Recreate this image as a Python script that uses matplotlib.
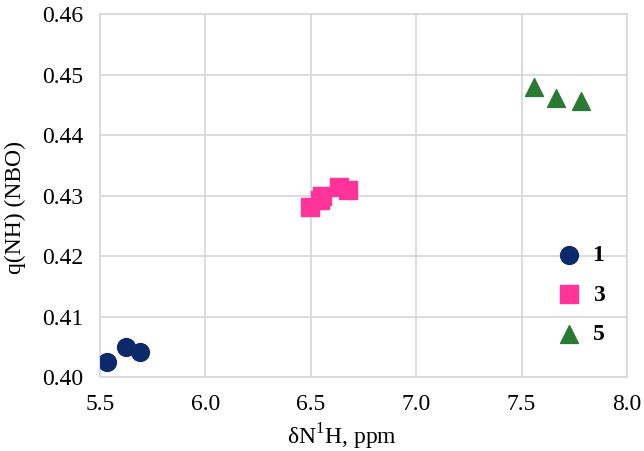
import matplotlib
matplotlib.use("Agg")
import matplotlib.pyplot as plt

plt.rcParams['font.family'] = ['Liberation Serif', 'DejaVu Serif']

# compuesto 1, 3, 5: desplazamiento quimico vs carga NBO
x1 = [5.535, 5.624, 5.690]
y1 = [0.4024, 0.4050, 0.4041]
x3 = [6.498, 6.543, 6.555, 6.635, 6.678]
y3 = [0.4281, 0.4292, 0.4300, 0.4314, 0.4309]
x5 = [7.560, 7.663, 7.781]
y5 = [0.4479, 0.4461, 0.4456]

etiquetas = ['1', '3', '5']
xticks = [5.5, 6.0, 6.5, 7.0, 7.5, 8.0]
yticks = [0.40, 0.41, 0.42, 0.43, 0.44, 0.45, 0.46]

fig = plt.figure(figsize=(6.44, 4.51), dpi=100)
ax = fig.add_axes([100/644, 74/451, 527/644, 363/451])

ax.scatter(x1, y1, s=165, marker='o', color='#0c2a6b', label=etiquetas[0], zorder=3)
ax.scatter(x3, y3, s=165, marker='s', color='#ff3399', label=etiquetas[1], zorder=3)
ax.scatter(x5, y5, s=165, marker='^', color='#2b7a34', label=etiquetas[2], zorder=3)

ax.set_xlim(5.5, 8.0)
ax.set_ylim(0.40, 0.46)
ax.set_xticks(xticks)
ax.set_yticks(yticks)
ax.set_xticklabels([f'{v:.1f}' for v in xticks])
ax.set_yticklabels([f'{v:.2f}' for v in yticks])
ax.tick_params(length=0, labelsize=17, pad=12)
ax.grid(True, color='#d9d9d9', linewidth=1.3)
ax.set_axisbelow(True)
for s in ax.spines.values():
    s.set_color('#d9d9d9')
    s.set_linewidth(1.3)

fig.text(342/644, 1 - 437/451, r'δN$^{\mathregular{1}}$H, ppm', fontsize=17,
         ha='center', va='center')
fig.text(15/644, 1 - 207/451, 'q(NH) (NBO)', fontsize=17, rotation=90,
         ha='center', va='center')

leg = ax.legend(loc='upper left', bbox_to_anchor=(543/644, 1 - 233/451),
                bbox_transform=fig.transFigure, frameon=False,
                prop={'weight': 'bold', 'size': 17}, handletextpad=0.4,
                labelspacing=0.75, borderpad=0, handlelength=1.2)

fig.savefig('out.png', dpi=100)
